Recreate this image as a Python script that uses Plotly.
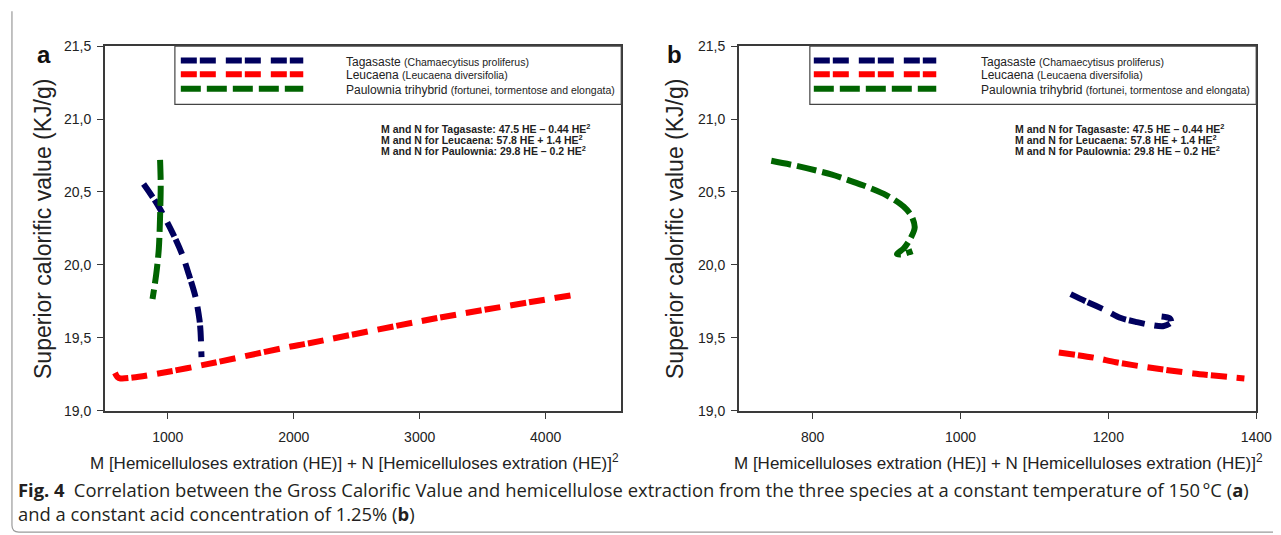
import plotly.graph_objects as go

# ---------------- data ----------------
# Panel a: constant temperature 150 °C
a_tag_x = [808, 921, 1038, 1117, 1168, 1221, 1252, 1260, 1268]
a_tag_y = [20.554, 20.41, 20.22, 20.066, 19.933, 19.778, 19.623, 19.545, 19.368]
a_leu_x = [581, 600, 625, 725, 960, 1274, 1979, 2083, 3128, 4212]
a_leu_y = [19.26, 19.232, 19.222, 19.228, 19.261, 19.313, 19.441, 19.457, 19.634, 19.793]
a_pau_x = [939, 944, 939, 929, 908, 879]
a_pau_y = [20.72, 20.554, 20.332, 20.11, 19.933, 19.767]

# Panel b: constant acid concentration 1.25 %
b_tag_x = [1149, 1171, 1195, 1217, 1237, 1253, 1275, 1285, 1283, 1272]
b_tag_y = [19.80, 19.747, 19.692, 19.636, 19.61, 19.592, 19.581, 19.607, 19.634, 19.647]
b_leu_x = [1133, 1181, 1210, 1248, 1315, 1384]
b_leu_y = [19.40, 19.364, 19.333, 19.302, 19.256, 19.222]
b_pau_x = [744, 780, 825, 869, 900, 923, 934, 938, 932, 923, 914, 920, 935]
b_pau_y = [20.714, 20.677, 20.62, 20.544, 20.477, 20.40, 20.333, 20.256, 20.179, 20.112, 20.075, 20.072, 20.095]

a_xticks = [1000, 2000, 3000, 4000]
b_xticks = [800, 1000, 1200, 1400]
y_ticks = [19.0, 19.5, 20.0, 20.5, 21.0, 21.5]
y_ticktext = ["19,0", "19,5", "20,0", "20,5", "21,0", "21,5"]

species = ["Tagasaste", "Leucaena", "Paulownia trihybrid"]
species_sub = ["(Chamaecytisus proliferus)", "(Leucaena diversifolia)",
               "(fortunei, tormentose and elongata)"]
equations = ["M and N for Tagasaste: 47.5 HE \u2013 0.44 HE<sup>2</sup>",
             "M and N for Leucaena: 57.8 HE + 1.4 HE<sup>2</sup>",
             "M and N for Paulownia: 29.8 HE \u2013 0.2 HE<sup>2</sup>"]
y_title = "Superior calorific value (KJ/g)"
x_title = "M [Hemicelluloses extration (HE)] + N [Hemicelluloses extration (HE)]<sup>2</sup>"
caption1 = "<b>Fig. 4</b>\u2002Correlation between the Gross Calorific Value and hemicellulose extraction from the three species at a constant temperature of 150\u202f\u00b0C (<b>a</b>)"
caption2 = "and a constant acid concentration of 1.25% (<b>b</b>)"

# ---------------- styles ----------------
W, H = 1281, 535
NAVY, RED, GREEN = "#00005e", "#ff0000", "#006400"
PAIR_DASH = "16px,3px,16px,10px"
GREEN_DASH = "20px,6px"
colors = [NAVY, RED, GREEN]
dashes = [PAIR_DASH, PAIR_DASH, GREEN_DASH]
AX = "#3a3a3a"
FONT = "Liberation Sans"
CAP_FONT = "Open Sans"


def px(x):
    return x / W


def py(y):
    return 1 - y / H


fig = go.Figure()

series = [
    (a_tag_x, a_tag_y, 0, "x", "y"), (a_leu_x, a_leu_y, 1, "x", "y"), (a_pau_x, a_pau_y, 2, "x", "y"),
    (b_tag_x, b_tag_y, 0, "x2", "y2"), (b_leu_x, b_leu_y, 1, "x2", "y2"), (b_pau_x, b_pau_y, 2, "x2", "y2"),
]
for xs, ys, k, xa, ya in series:
    fig.add_trace(go.Scatter(
        x=xs, y=ys, mode="lines", xaxis=xa, yaxis=ya, showlegend=False,
        line=dict(color=colors[k], width=6, dash=dashes[k], shape="spline", smoothing=0.8),
        hoverinfo="skip"))

axis_common = dict(
    ticks="outside", ticklen=6, tickwidth=1.2, tickcolor=AX,
    showline=True, linecolor=AX, linewidth=1.5, mirror=True,
    showgrid=False, zeroline=False,
    tickfont=dict(family=FONT, size=14, color="#222"),
)

fig.update_layout(
    width=W, height=H,
    margin=dict(l=0, r=0, t=0, b=0),
    paper_bgcolor="white", plot_bgcolor="white",
    showlegend=False,
    xaxis=dict(domain=[px(98), px(621)], range=[500, 4600], tickvals=a_xticks,
               ticktext=[str(v) for v in a_xticks], anchor="y", ticklabelstandoff=7, **axis_common),
    yaxis=dict(domain=[py(407), py(31)], range=[19.0, 21.5], tickvals=y_ticks,
               ticktext=y_ticktext, anchor="x", ticklabelstandoff=3, **axis_common),
    xaxis2=dict(domain=[px(740), px(1264)], range=[700, 1400], tickvals=b_xticks,
                ticktext=[str(v) for v in b_xticks], anchor="y2", ticklabelstandoff=7, **axis_common),
    yaxis2=dict(domain=[py(407), py(31)], range=[19.0, 21.5], tickvals=y_ticks,
                ticktext=y_ticktext, anchor="x2", ticklabelstandoff=3, **axis_common),
)

shapes = []
annotations = []

# figure frame (left and bottom edge with rounded corner)
shapes.append(dict(type="path", xref="paper", yref="paper",
                   path=f"M {px(4)},{py(-5)} L {px(4)},{py(525)} Q {px(4)},{py(532)} {px(11)},{py(532)} L {px(1290)},{py(532)}",
                   line=dict(color="#9a9a9a", width=1.2)))

panels = [
    dict(box_l=169, box_r=621, line_l=175, line_r=299, text_x=340, eq_x=376,
         label="a", label_x=36, ytitle_x=36, xtitle_x=351),
    dict(box_l=812, box_r=1264, line_l=816, line_r=940, text_x=983, eq_x=1018,
         label="b", label_x=675, ytitle_x=676, xtitle_x=1003),
]
row_y = [46, 60, 75]
eq_y = [116, 127.5, 139]

for p in panels:
    shapes.append(dict(type="rect", xref="paper", yref="paper",
                       x0=px(p["box_l"]), x1=px(p["box_r"]), y0=py(91), y1=py(31),
                       line=dict(color="#444", width=1.2)))
    for k in range(3):
        shapes.append(dict(type="line", xref="paper", yref="paper",
                           x0=px(p["line_l"]), x1=px(p["line_r"]), y0=py(row_y[k]), y1=py(row_y[k]),
                           line=dict(color=colors[k], width=6, dash=dashes[k])))
        annotations.append(dict(
            xref="paper", yref="paper", x=px(p["text_x"]), y=py(row_y[k] + 1),
            xanchor="left", yanchor="middle", showarrow=False,
            text=f"{species[k]} <span style='font-size:10.5px'>{species_sub[k]}</span>",
            font=dict(family=FONT, size=12, color="#222")))
        annotations.append(dict(
            xref="paper", yref="paper", x=px(p["eq_x"]), y=py(eq_y[k]),
            xanchor="left", yanchor="middle", showarrow=False,
            text=f"<b>{equations[k]}</b>",
            font=dict(family=FONT, size=10.5, color="#222")))
    annotations.append(dict(
        xref="paper", yref="paper", x=px(p["label_x"]), y=py(40),
        xanchor="center", yanchor="middle", showarrow=False,
        text=f"<b>{p['label']}</b>", font=dict(family=FONT, size=24, color="#111")))
    annotations.append(dict(
        xref="paper", yref="paper", x=px(p["ytitle_x"]), y=py(220),
        xanchor="center", yanchor="middle", showarrow=False, textangle=-90,
        text=y_title, font=dict(family=FONT, size=23, color="#222")))
    annotations.append(dict(
        xref="paper", yref="paper", x=px(p["xtitle_x"]), y=py(460),
        xanchor="center", yanchor="middle", showarrow=False,
        text=x_title, font=dict(family=FONT, size=17, color="#222")))

# two-line caption as one text block
annotations.append(dict(xref="paper", yref="paper", x=px(8), y=py(500),
                        xanchor="left", yanchor="middle", align="left", showarrow=False,
                        text=caption1 + "<br>" + caption2,
                        font=dict(family=CAP_FONT, size=18.4, color="#231f20")))

fig.update_layout(shapes=shapes, annotations=annotations)
fig.write_html("out.html")
